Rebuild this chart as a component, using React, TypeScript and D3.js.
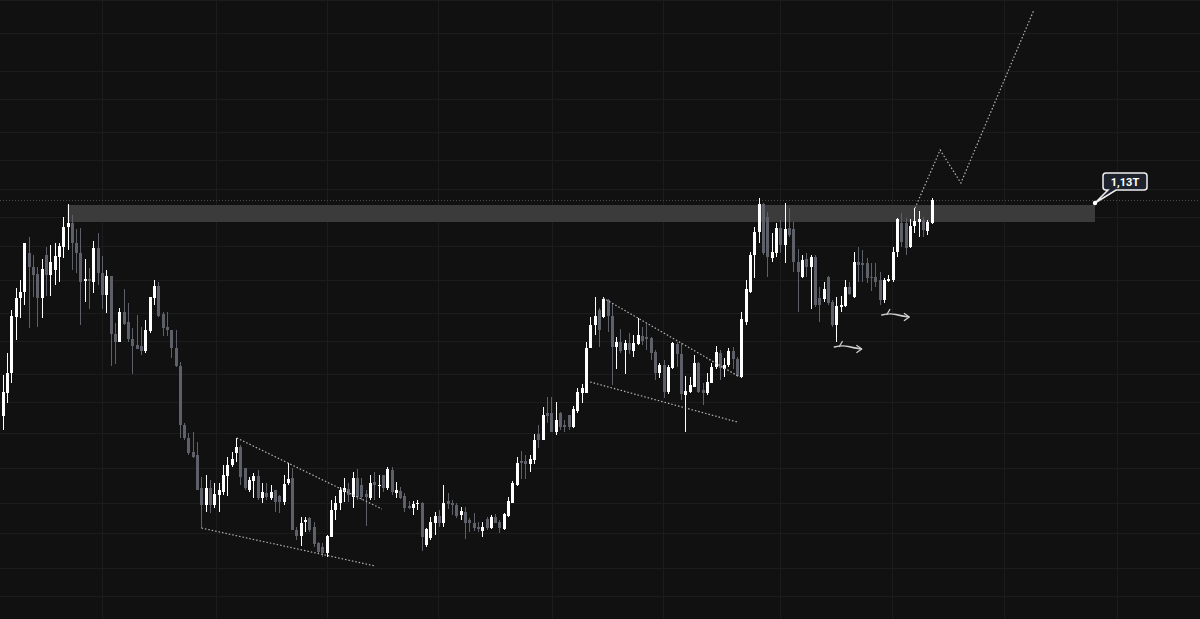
import React from "react";
import * as d3 from "d3";

// ---- Candle data (market cap, billions) ----
const open = [
  706,752,792,904,942,954,1032,1004,990,942,
  1028,988,998,1024,1044,1084,1092,1052,1032,976,
  980,974,1042,992,948,986,870,854,914,894,
  860,848,846,836,876,942,966,910,884,878,
  842,806,688,662,634,628,562,528,562,528,
  548,554,586,608,632,644,602,558,576,586,
  542,552,542,558,546,534,572,582,478,466,
  494,502,484,452,444,432,464,518,532,554,
  560,544,582,568,550,542,574,566,588,562,
  598,552,556,546,526,522,530,532,448,462,
  492,506,492,536,532,528,508,514,498,492,
  484,476,500,482,504,494,480,506,532,568,
  616,616,610,618,670,658,712,712,674,712,
  688,708,684,716,752,752,842,888,918,904,
  938,906,844,854,838,852,836,850,866,864,
  862,834,792,808,754,802,850,830,748,754,
  764,812,758,752,772,804,832,800,808,836,
  820,784,894,954,1028,1074,1130,1104,1022,1032,
  1082,1048,1082,1080,1014,984,1020,1004,1024,942,
  940,984,934,888,924,926,964,944,1014,1012,
  1012,984,984,978,938,976,978,1034,1092,1092,
  1044,1086,1094,1098,1076,1092,
];
const close = [
  754,792,906,942,954,1052,1004,988,942,1000,
  988,1014,1026,1046,1084,1092,1052,1032,974,980,
  976,1042,992,948,986,870,854,914,890,860,
  846,840,836,878,944,966,906,882,878,842,
  806,688,662,632,624,558,528,562,528,550,
  558,588,608,620,644,584,562,578,586,542,
  554,544,554,534,534,570,580,478,466,492,
  498,478,450,434,432,466,518,532,558,562,
  548,582,544,544,544,572,568,568,562,600,
  554,558,542,522,522,530,532,464,480,494,
  506,492,532,530,528,506,516,492,492,482,
  480,484,482,504,492,482,510,536,572,612,
  612,610,620,658,658,708,706,674,698,684,
  684,684,720,754,762,842,888,906,878,940,
  906,844,854,836,852,838,852,868,856,860,
  832,792,808,754,804,852,830,750,756,768,
  812,754,752,774,804,834,802,808,836,820,
  786,900,960,1028,1074,1130,1032,1024,1034,1082,
  1048,1080,1068,1014,994,1018,1004,1024,928,928,
  960,932,888,926,928,964,950,1014,1008,1008,
  982,982,974,938,978,980,1034,1100,1054,1042,
  1086,1096,1100,1078,1094,1138,
];
const high = [
  788,832,918,962,978,1052,1064,1028,1004,1020,
  1044,1048,1052,1052,1104,1130,1108,1080,1082,1020,
  1002,1056,1072,1026,998,986,892,922,960,932,
  882,908,884,898,944,978,974,914,914,878,
  878,814,692,672,674,654,584,588,578,572,
  572,608,624,634,662,648,602,584,592,598,
  572,572,568,558,548,588,612,602,484,504,
  504,504,494,454,452,468,538,546,564,582,
  572,594,600,582,558,588,594,588,588,604,
  604,574,564,552,536,536,538,534,482,504,
  514,518,568,552,538,532,524,524,502,512,
  494,494,504,508,510,498,512,544,576,624,
  636,628,628,670,688,724,744,744,734,714,
  698,708,726,762,770,854,904,944,922,944,
  940,932,864,880,858,872,868,902,884,892,
  864,838,812,818,808,854,854,852,786,784,
  828,814,772,792,812,846,838,822,842,844,
  824,914,978,1034,1084,1142,1132,1114,1072,1092,
  1098,1132,1122,1094,1040,1028,1032,1028,1028,964,
  974,986,938,944,946,978,974,1034,1044,1038,
  1022,1012,1012,994,982,988,1044,1102,1112,1102,
  1100,1122,1116,1104,1098,1142,
];
const low = [
  678,732,772,858,902,928,882,944,884,902,
  946,946,968,974,1022,1038,998,992,888,934,
  920,952,968,920,912,806,810,854,888,854,
  790,840,828,832,872,928,904,866,866,822,
  804,662,658,628,622,558,482,514,512,522,
  514,548,546,604,614,568,558,554,542,538,
  532,538,538,514,512,528,568,478,458,446,
  474,474,444,432,424,424,464,498,518,534,
  534,522,538,538,486,538,538,542,554,558,
  548,542,540,514,520,508,518,436,444,458,
  468,484,484,520,508,502,498,460,474,476,
  474,464,478,480,492,472,478,504,532,566,
  580,580,594,610,642,658,692,674,668,678,
  674,678,682,712,732,752,842,868,844,902,
  874,768,800,832,790,830,824,848,848,838,
  818,778,782,742,750,800,804,738,674,752,
  764,752,728,748,772,800,778,784,804,800,
  784,782,888,952,982,1052,1028,984,1014,1024,
  1032,1012,1064,994,914,982,984,920,924,894,
  934,928,884,854,914,924,948,942,974,974,
  972,956,964,928,932,974,974,1024,1044,1028,
  1042,1072,1064,1064,1068,1090,
];

// ---- grid ticks ----
const gridValues = [1538,1472,1396,1340,1274,1218,1160,1104,1046,978,912,856,790,734,672,602,532,472,402,346];
const gridTimes = [23,49.4,75.1,100.8,127.2,152.8,179.9,205.9,231.8,257.9];

// ---- annotations (index, value) ----
const zoneStart = 15;
const zoneEnd = 252.85;
const zoneTop = 1128;
const zoneBottom = 1094;
const levelValue = 1138;
const levelLabel = "1,13T";
const labelValue = 1132;
const trendLines: [number, number][][] = [
  [[54.2, 662], [87.8, 520]],
  [[46, 482], [86.2, 406]],
  [[139, 942], [170.6, 784]],
  [[136, 774], [170, 694]],
];
const projection: [number, number][] = [[211.2, 1122], [217, 1238], [221.8, 1172], [238.7, 1518]];
const arrows: [number, number][] = [[192.5, 845], [203.5, 909]];

const W = 1200, H = 619;
const BG = "#111111";
const GRID = "#1c1c1c";
const UP = "#ffffff";
const DOWN = "#5d6069";

export default function App() {
  const x = d3.scaleLinear().domain([0, 215]).range([2.7, 931.5]);
  const y = d3.scaleLinear().domain([300, 1538]).range([H, 0]);
  const line = d3.line<[number, number]>().x(d => x(d[0])).y(d => y(d[1]));

  const tipX = x(zoneEnd), tipY = y(labelValue);
  const bx = tipX + 8, by = tipY - 30, bw = 44, bh = 17, r = 3;
  const callout = `M${bx + r},${by} H${bx + bw - r} Q${bx + bw},${by} ${bx + bw},${by + r} V${by + bh - r} Q${bx + bw},${by + bh} ${bx + bw - r},${by + bh} H${bx + 13} L${tipX},${tipY} L${bx + 5},${by + bh} H${bx + r} Q${bx},${by + bh} ${bx},${by + bh - r} V${by + r} Q${bx},${by} ${bx + r},${by} Z`;

  return (
    <svg width={W} height={H} style={{ position: "fixed", left: 0, top: 0, display: "block" }}>
      <rect width={W} height={H} fill={BG} />
      <g>
        {gridValues.map((v, i) => (
          <line key={"h" + i} x1={0} x2={W} y1={Math.round(y(v)) + 0.5} y2={Math.round(y(v)) + 0.5} stroke={GRID} strokeWidth={1} />
        ))}
        {gridTimes.map((t, i) => (
          <line key={"v" + i} y1={0} y2={H} x1={Math.round(x(t)) + 0.5} x2={Math.round(x(t)) + 0.5} stroke={GRID} strokeWidth={1} />
        ))}
      </g>
      <line x1={0} x2={W} y1={Math.round(y(levelValue)) + 0.5} y2={Math.round(y(levelValue)) + 0.5} stroke="#4a4a4a" strokeDasharray="1 2" />
      <rect x={x(zoneStart)} y={y(zoneTop)} width={x(zoneEnd) - x(zoneStart)} height={y(zoneBottom) - y(zoneTop)} fill="#3b3b3b" />
      <g>
        {open.map((o, i) => {
          const c = close[i];
          const col = c >= o ? UP : DOWN;
          const cx = Math.round(x(i));
          const top = Math.min(y(o), y(c));
          const hgt = Math.max(1, Math.abs(y(o) - y(c)));
          return (
            <g key={i}>
              <line x1={cx + 0.5} x2={cx + 0.5} y1={y(high[i])} y2={y(low[i])} stroke={col} strokeWidth={1} />
              <rect x={cx - 1} y={top} width={3} height={hgt} fill={col} />
            </g>
          );
        })}
      </g>
      <g fill="none" stroke="#b5b5b5" strokeWidth={1.2} strokeDasharray="1.5 2">
        {trendLines.map((l, i) => <path key={i} d={line(l) || ""} />)}
        <path d={line(projection) || ""} />
      </g>
      <g fill="none" stroke="#d0d0d0" strokeWidth={1.3} strokeLinecap="round" strokeLinejoin="round">
        {arrows.map((a, i) => {
          const ax = x(a[0]), ay = y(a[1]);
          return (
            <g key={i} transform={`translate(${ax},${ay})`}>
              <path d="M0,0.5 Q8,-1.5 14,0 T27,2.5" />
              <path d="M5,0 L8,-5" />
              <path d="M22.5,-1 L27.5,2.5 L22.5,6" />
            </g>
          );
        })}
      </g>
      <path d={callout} fill="#1e222d" stroke="#f0f0f0" strokeWidth={1.5} />
      <circle cx={tipX} cy={tipY} r={2.2} fill="#ffffff" />
      <text x={bx + bw / 2} y={by + bh / 2 + 4} textAnchor="middle" fill="#ffffff" fontFamily="Roboto, Arial, sans-serif" fontWeight="bold" fontSize={11}>
        {levelLabel}
      </text>
    </svg>
  );
}
